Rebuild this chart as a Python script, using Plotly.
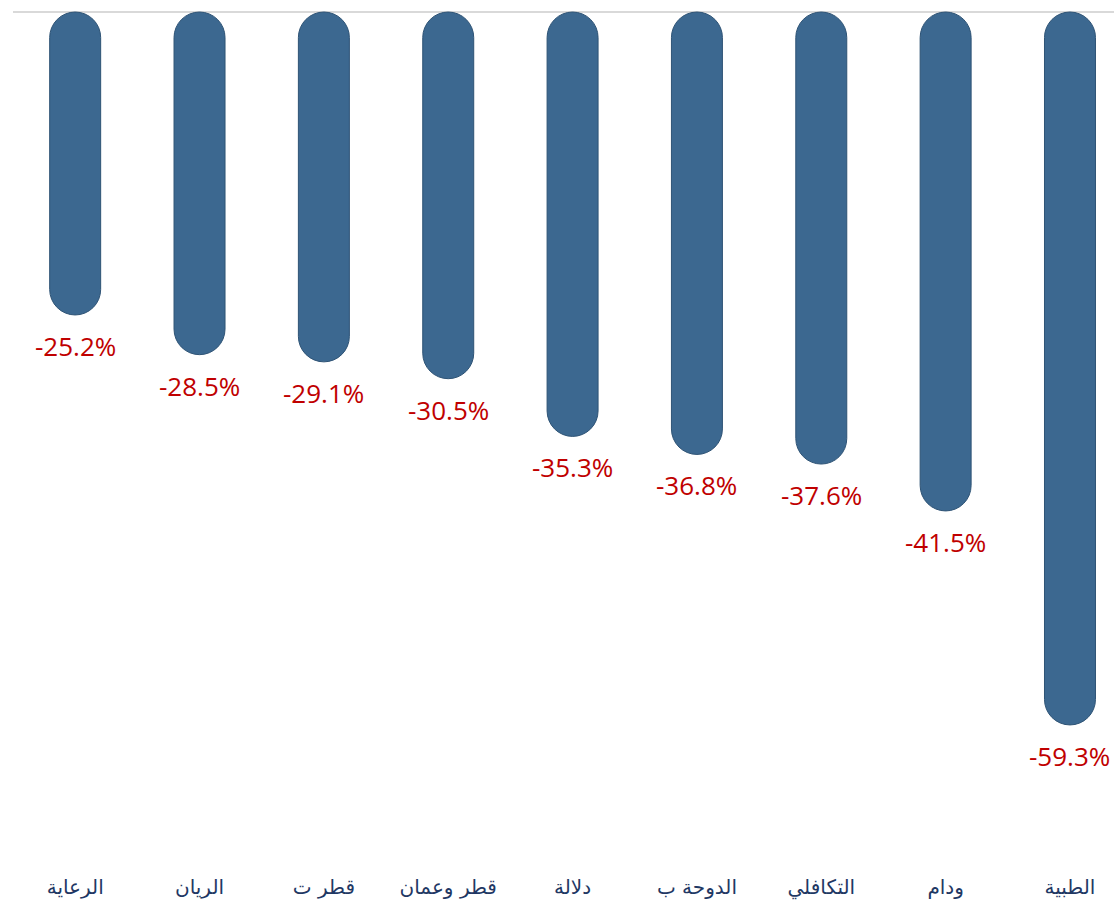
import plotly.graph_objects as go

categories = ["الرعاية", "الريان", "قطر ت", "قطر وعمان", "دلالة", "الدوحة ب", "التكافلي", "ودام", "الطبية"]
values = [-25.2, -28.5, -29.1, -30.5, -35.3, -36.8, -37.6, -41.5, -59.3]
labels = [f"{v:.1f}%" for v in values]

BAR_COLOR = "#3C6890"
x = list(range(len(categories)))

fig = go.Figure()
fig.add_trace(go.Bar(
    x=x, y=[-v for v in values], base=values, width=0.41,
    marker=dict(color=BAR_COLOR, line=dict(width=1, color="#2E5375"), cornerradius="50%"),
    hoverinfo="skip", showlegend=False,
))

for xi, v, t in zip(x, values, labels):
    fig.add_annotation(
        x=xi, y=v, text=t, showarrow=False, xref="x", yref="y",
        yanchor="middle", yshift=-31,
        font=dict(family="Open Sans, Liberation Sans, sans-serif", size=26, color="#C00000"),
    )

fig.update_layout(
    width=1114, height=902,
    margin=dict(l=13, r=0, t=0, b=40),
    paper_bgcolor="white", plot_bgcolor="white",
    xaxis=dict(
        range=[-0.5, 8.354], tickmode="array", tickvals=x, ticktext=categories,
        showgrid=False, zeroline=False, showline=False, ticks="",
        ticklabelstandoff=11,
        tickfont=dict(family="DejaVu Sans, sans-serif", size=20, color="#1F3864"),
    ),
    yaxis=dict(
        range=[-70.7, 1.0], showgrid=False, showticklabels=False, ticks="",
        zeroline=True, zerolinecolor="#D9D9D9", zerolinewidth=2, showline=False,
    ),
)

fig.write_html(
    "out.html",
    config={"displayModeBar": False},
    post_script="document.body.style.margin='0';document.body.style.overflow='hidden';",
)
